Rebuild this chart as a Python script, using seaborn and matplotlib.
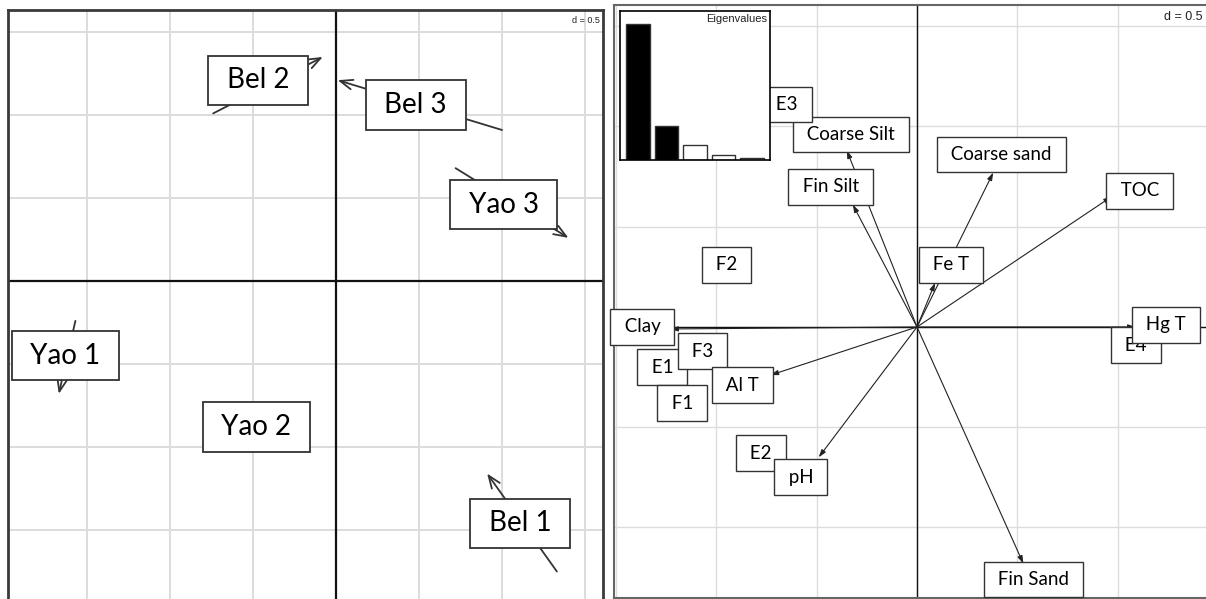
import numpy as np
import pandas as pd
import matplotlib
matplotlib.use("Agg")
import matplotlib.pyplot as plt
import seaborn as sns

# --- 1. DATA ---
# left panel: two sets of site scores matched by arrows (tail -> head)
sites = ["Bel 1", "Bel 2", "Bel 3", "Yao 1", "Yao 2", "Yao 3"]
site_x0 = [1.33, -0.74, 1.00, -1.57, -0.46, 0.72]
site_y0 = [-1.75, 1.01, 0.91, -0.24, -0.87, 0.68]
site_x1 = [0.91, -0.08, 0.01, -1.67, -0.49, 1.40]
site_y1 = [-1.16, 1.35, 1.21, -0.68, -0.89, 0.26]
site_lx = [1.11, -0.47, 0.48, -1.63, -0.48, 1.01]
site_ly = [-1.46, 1.21, 1.06, -0.45, -0.88, 0.46]

# right panel: variable arrows and their labels
variables = ["Coarse Silt", "Fin Silt", "Coarse sand", "TOC", "Fe T",
             "Hg T", "Clay", "Al T", "pH", "Fin Sand"]
var_x = [-0.35, -0.32, 0.38, 0.97, 0.09, 1.09, -1.23, -0.73, -0.49, 0.53]
var_y = [0.88, 0.61, 0.77, 0.65, 0.22, 0.00, -0.01, -0.24, -0.65, -1.18]
var_lx = [-0.33, -0.43, 0.42, 1.11, 0.17, 1.24, -1.37, -0.87, -0.58, 0.58]
var_ly = [0.96, 0.70, 0.86, 0.68, 0.31, 0.01, 0.00, -0.29, -0.75, -1.26]

# right panel: row labels
rows = ["E1", "E2", "E3", "E4", "F1", "F2", "F3"]
row_x = [-1.27, -0.78, -0.65, 1.09, -1.17, -0.95, -1.07]
row_y = [-0.20, -0.63, 1.11, -0.09, -0.38, 0.31, -0.12]

eigenvalues = [5.44, 1.36, 0.60, 0.20, 0.08]
axes_kept = 2

# --- 2. STYLE ---
sns.set_style("white")
plt.rcParams['font.family'] = ['Lato', 'DejaVu Sans']

W, H = 1206, 599
fig = plt.figure(figsize=(W / 100, H / 100), dpi=100)


def frame(l, t, r, b):
    # pixel box -> figure fraction
    return [l / W, 1 - b / H, (r - l) / W, (b - t) / H]


def prepare(ax, xlim, ylim, grid_lw, axis_lw, spine_col, spine_lw):
    ticks = np.arange(-1.5, 1.51, 0.5)
    ax.set_xticks(ticks)
    ax.set_yticks(ticks)
    ax.set_xticklabels([])
    ax.set_yticklabels([])
    ax.tick_params(length=0)
    # limits after the ticks, otherwise set_ticks widens them
    ax.set_xlim(*xlim)
    ax.set_ylim(*ylim)
    ax.grid(True, color='#dcdcdc', lw=grid_lw, zorder=0)
    ax.set_axisbelow(True)
    ax.axhline(0, color='#111111', lw=axis_lw, zorder=1)
    ax.axvline(0, color='#111111', lw=axis_lw, zorder=1)
    for s in ax.spines.values():
        s.set_color(spine_col)
        s.set_linewidth(spine_lw)


def boxed(ax, x, y, s, size, pad, lw, z):
    ax.text(x, y, f" {s} ", ha='center', va='center', fontsize=size, zorder=z,
            color='black',
            bbox=dict(boxstyle=f"square,pad={pad}", fc='white', ec='#333333', lw=lw))


# --- 3. LEFT PANEL ---
ax1 = fig.add_axes(frame(8, 10, 603, 601))
prepare(ax1, (-1.976, 1.608), (-1.928, 1.633), 1.4, 1.6, '#3a3a3a', 2.0)

for i, lab in enumerate(sites):
    ax1.annotate("", xy=(site_x1[i], site_y1[i]), xytext=(site_x0[i], site_y0[i]),
                 zorder=2,
                 arrowprops=dict(arrowstyle="->,head_length=0.9,head_width=0.35",
                                 color='#333333', lw=1.3, shrinkA=0, shrinkB=0,
                                 mutation_scale=10))
    boxed(ax1, site_lx[i], site_ly[i], lab, 20, 0.42, 1.3, 3)

ax1.text(0.995, 0.99, "d = 0.5", transform=ax1.transAxes, ha='right', va='top',
         fontsize=6.5, family='Liberation Sans', color='#222222')

# --- 4. RIGHT PANEL ---
ax2 = fig.add_axes(frame(614, 5, 1208, 598))
prepare(ax2, (-1.511, 1.451), (-1.352, 1.606), 1.0, 1.0, '#666666', 1.5)

for i, lab in enumerate(variables):
    ax2.annotate("", xy=(var_x[i], var_y[i]), xytext=(0, 0), zorder=2,
                 arrowprops=dict(arrowstyle="-|>,head_length=0.45,head_width=0.15",
                                 color='#222222', lw=0.8, shrinkA=0, shrinkB=0,
                                 mutation_scale=10))

# label stacking as in the original
boxed(ax2, var_lx[0], var_ly[0], variables[0], 13.5, 0.5, 1.0, 3)
for i, lab in enumerate(rows):
    boxed(ax2, row_x[i], row_y[i], lab, 13.5, 0.5, 1.0, 4)
for i in range(1, len(variables)):
    boxed(ax2, var_lx[i], var_ly[i], variables[i], 13.5, 0.5, 1.0, 5)

ax2.text(1203 / W, 1 - 11 / H, "d = 0.5", transform=fig.transFigure, ha='right',
         va='top', fontsize=9, family='Liberation Sans', color='#222222')

# --- 5. EIGENVALUES INSET ---
ax3 = fig.add_axes(frame(620, 11, 770, 160))
eig = pd.DataFrame({"axis": [str(k + 1) for k in range(len(eigenvalues))],
                    "value": eigenvalues})
cols = ['black' if k < axes_kept else 'white' for k in range(len(eigenvalues))]
sns.barplot(data=eig, x="axis", y="value", hue="axis", palette=cols, legend=False,
            width=0.84, edgecolor='#333333', linewidth=1.0, ax=ax3)
ax3.set_xlim(-0.63, 4.63)
ax3.set_ylim(0, max(eigenvalues) * 149 / 136)
ax3.set_xticks([])
ax3.set_yticks([])
ax3.set_xlabel("")
ax3.set_ylabel("")
for s in ax3.spines.values():
    s.set_color('black')
    s.set_linewidth(1.2)
ax3.text(0.98, 0.98, "Eigenvalues", transform=ax3.transAxes, ha='right', va='top',
         fontsize=8, family='Liberation Sans', color='#222222')

fig.savefig("out.png", dpi=100)
